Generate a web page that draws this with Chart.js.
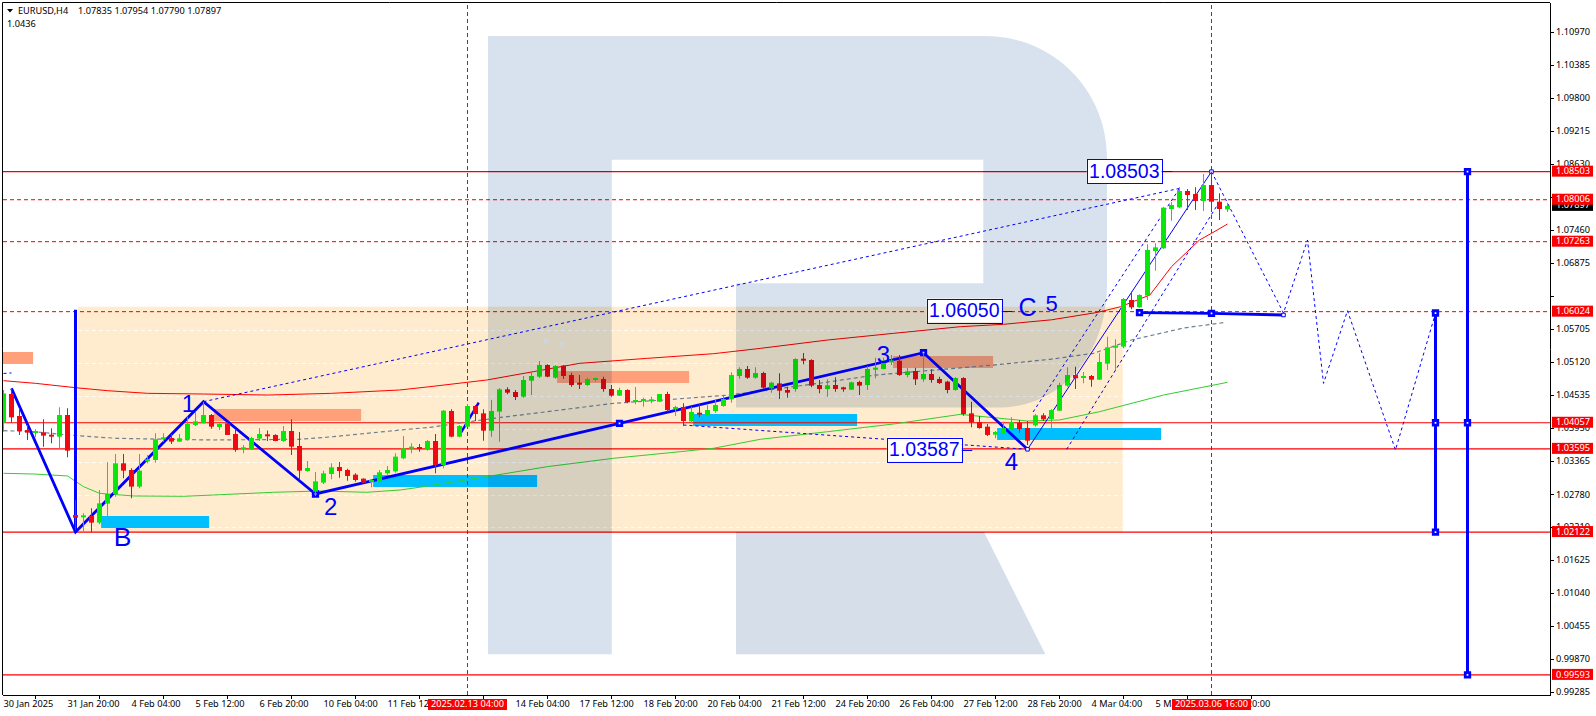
<!DOCTYPE html>
<html>
<head>
<meta charset="utf-8">
<title>EURUSD,H4</title>
<script src="https://cdn.jsdelivr.net/npm/chart.js@4/dist/chart.umd.min.js"></script>
<style>
  html, body { margin: 0; padding: 0; background: #fff; overflow: hidden; }
  canvas { display: block; }
</style>
</head>
<body>
<canvas id="chart" width="1596" height="716"></canvas>
<script>
// Candles, one entry per H4 bar
const opens = [
  1.04059,1.04566,1.04177,1.03929,1.03876,1.03888,1.03840,1.03811,1.04195,1.02424,
  1.02383,1.02407,1.02289,1.02625,1.02796,1.03339,1.03221,1.02926,1.03374,1.03398,
  1.03764,1.03787,1.03723,1.03764,1.04018,1.04047,1.04195,1.03982,1.04047,1.03858,
  1.03587,1.03587,1.03776,1.03835,1.03841,1.03734,1.03911,1.03646,1.03203,1.02837,
  1.02997,1.03150,1.03274,1.03221,1.03138,1.03067,1.03009,1.03020,1.03162,1.03197,
  1.03428,1.03599,1.03610,1.03575,1.03734,1.03310,1.04265,1.03811,1.03988,1.04354,
  1.04224,1.03917,1.04254,1.04649,1.04602,1.04519,1.04802,1.04873,1.05080,1.04855,
  1.05068,1.04902,1.04749,1.04726,1.04814,1.04832,1.04655,1.04537,1.04637,1.04425,
  1.04442,1.04436,1.04430,1.04566,1.04295,1.04336,1.04082,1.04230,1.04189,1.04265,
  1.04354,1.04472,1.04885,1.05009,1.04855,1.04938,1.04666,1.04755,1.04637,1.04655,
  1.05186,1.05168,1.04726,1.04655,1.04726,1.04672,1.04643,1.04779,1.04726,1.04997,
  1.05009,1.05127,1.05156,1.04903,1.04973,1.04826,1.04920,1.04832,1.04785,1.04637,
  1.04849,1.04224,1.04071,1.03988,1.03846,1.03876,1.03929,1.04059,1.03964,1.04012,
  1.04189,1.04124,1.04271,1.04714,1.04903,1.04849,1.04885,1.04820,1.05103,1.05386,
  1.05405,1.06231,1.06101,1.06308,1.07098,1.07146,1.07842,1.07871,1.08160,1.08107,
  1.07983,1.08266,1.07971,1.07835
];
const highs = [
  1.04637,1.04666,1.04312,1.04018,1.03941,1.04118,1.03959,1.04330,1.04312,1.02690,
  1.02454,1.02542,1.02867,1.03363,1.03504,1.03504,1.03250,1.03504,1.03486,1.03870,
  1.03870,1.03858,1.03858,1.04165,1.04253,1.04430,1.04212,1.04047,1.04077,1.03929,
  1.03664,1.03811,1.03959,1.03918,1.03853,1.04000,1.04118,1.03894,1.03380,1.03186,
  1.03209,1.03339,1.03363,1.03245,1.03162,1.03073,1.03056,1.03221,1.03292,1.03516,
  1.03823,1.03693,1.03681,1.03752,1.03858,1.04283,1.04295,1.04017,1.04389,1.04372,
  1.04295,1.04460,1.04667,1.04684,1.04637,1.04885,1.04962,1.05150,1.05091,1.05074,
  1.05080,1.04944,1.04902,1.04855,1.04855,1.04873,1.04726,1.04678,1.04649,1.04690,
  1.04501,1.04519,1.04566,1.04607,1.04360,1.04401,1.04342,1.04383,1.04372,1.04472,
  1.04531,1.04950,1.05038,1.05062,1.05038,1.04962,1.04785,1.04932,1.04696,1.05198,
  1.05292,1.05180,1.04814,1.04826,1.04861,1.04696,1.04785,1.04802,1.05062,1.05209,
  1.05209,1.05256,1.05256,1.05032,1.05032,1.05286,1.05003,1.04873,1.04802,1.04861,
  1.04861,1.04431,1.04177,1.04035,1.03911,1.04076,1.04153,1.04106,1.04088,1.04212,
  1.04224,1.04295,1.04767,1.05038,1.05050,1.04956,1.04903,1.05286,1.05581,1.05534,
  1.06266,1.06379,1.06331,1.07216,1.07234,1.07883,1.07966,1.08225,1.08196,1.08225,
  1.08461,1.08503,1.08119,1.07954
];
const lows = [
  1.03900,1.04059,1.03841,1.03752,1.03800,1.03634,1.03693,1.03587,1.03445,1.02159,
  1.02112,1.02124,1.02260,1.02395,1.02749,1.03073,1.02719,1.02896,1.03339,1.03351,
  1.03723,1.03681,1.03723,1.03740,1.04000,1.04047,1.03953,1.03929,1.03841,1.03546,
  1.03516,1.03575,1.03734,1.03734,1.03728,1.03723,1.03486,1.03056,1.03191,1.02761,
  1.02973,1.03056,1.03085,1.03032,1.03014,1.02985,1.02914,1.02985,1.03138,1.03174,
  1.03410,1.03516,1.03545,1.03563,1.03162,1.03251,1.03799,1.03799,1.03976,1.04088,
  1.03740,1.03811,1.03723,1.04560,1.04460,1.04501,1.04549,1.04849,1.04861,1.04838,
  1.04832,1.04696,1.04655,1.04714,1.04784,1.04607,1.04519,1.04531,1.04401,1.04383,
  1.04342,1.04401,1.04430,1.04254,1.04177,1.04000,1.04047,1.04153,1.04177,1.04236,
  1.04342,1.04413,1.04838,1.04838,1.04838,1.04661,1.04590,1.04478,1.04501,1.04608,
  1.05091,1.04684,1.04578,1.04519,1.04608,1.04608,1.04637,1.04548,1.04637,1.04843,
  1.05003,1.05080,1.04891,1.04861,1.04726,1.04785,1.04767,1.04743,1.04578,1.04625,
  1.04183,1.03976,1.03953,1.03823,1.03782,1.03811,1.03911,1.03882,1.03664,1.03988,
  1.04088,1.03870,1.04265,1.04696,1.04655,1.04755,1.04696,1.04814,1.04991,1.04991,
  1.05376,1.06066,1.06095,1.06231,1.06750,1.07134,1.07635,1.07859,1.07824,1.07824,
  1.07806,1.07794,1.07647,1.07790
];
const closes = [
  1.04578,1.04153,1.03911,1.03882,1.03887,1.03829,1.03811,1.04195,1.03563,1.02377,
  1.02413,1.02289,1.02631,1.02796,1.03339,1.03209,1.02926,1.03209,1.03410,1.03764,
  1.03799,1.03723,1.03782,1.04035,1.04082,1.04195,1.03988,1.04035,1.03841,1.03575,
  1.03610,1.03787,1.03858,1.03817,1.03734,1.03911,1.03634,1.03209,1.03256,1.03020,
  1.03162,1.03268,1.03203,1.03115,1.03044,1.02997,1.03044,1.03180,1.03221,1.03457,
  1.03605,1.03616,1.03593,1.03734,1.03310,1.04271,1.03811,1.04000,1.04354,1.04212,
  1.03917,1.04265,1.04649,1.04590,1.04513,1.04814,1.04885,1.05080,1.04873,1.05062,
  1.04885,1.04726,1.04731,1.04832,1.04849,1.04655,1.04537,1.04637,1.04419,1.04460,
  1.04478,1.04472,1.04566,1.04283,1.04336,1.04088,1.04248,1.04200,1.04283,1.04372,
  1.04478,1.04902,1.05009,1.04855,1.04938,1.04678,1.04767,1.04625,1.04590,1.05186,
  1.05156,1.04714,1.04655,1.04720,1.04655,1.04649,1.04773,1.04714,1.05009,1.05026,
  1.05156,1.05156,1.04903,1.04967,1.04826,1.04920,1.04814,1.04761,1.04637,1.04849,
  1.04212,1.04065,1.03964,1.03841,1.03894,1.03964,1.04071,1.03947,1.03740,1.04189,
  1.04118,1.04283,1.04726,1.04903,1.04844,1.04885,1.04820,1.05133,1.05392,1.05416,
  1.06249,1.06101,1.06319,1.07116,1.07163,1.07865,1.07913,1.08160,1.08090,1.07983,
  1.08266,1.07971,1.07842,1.07897
];

// Moving averages, read at their knots
const redMaBars = [0,4,9,13,18,25,33,41,49.5,53.3,60.4,66.25,72,80.4,88.75,94.6,103,111.25,119.6,125,131,136.7,139.6,143.3,146,149.5,151,153];
const redMaValues = [1.04802,1.04755,1.04678,1.04625,1.04578,1.04566,1.04548,1.04578,1.04637,1.04696,1.04814,1.04962,1.05109,1.05197,1.0528,1.05374,1.05522,1.0564,1.05758,1.058,1.0588,1.0601,1.0611,1.06319,1.06821,1.07293,1.07411,1.07576];
const greenMaBars = [0,3.75,8,10,12,16.25,22.5,26.25,33.75,39.6,45.4,49.6,52.5,61.7,68,76.25,84.6,88.75,94.6,103,111.25,119.6,128,132,137,145,153];
const greenMaValues = [1.03162,1.0315,1.03115,1.02926,1.02808,1.02761,1.02755,1.02778,1.02826,1.02849,1.02826,1.02867,1.02926,1.03133,1.0328,1.03428,1.03545,1.03605,1.03764,1.03899,1.04035,1.04206,1.04088,1.04106,1.04253,1.04548,1.04773];
const grayMaBars = [0,3.75,9,14.2,20.4,26.25,37,41.25,49.6,53.3,61.25,68,76.25,82.5,90.8,102.5,109,123.75,130.8,136.25,141,147.5,152.5];
const grayMaValues = [1.03917,1.039,1.03829,1.03782,1.03764,1.03752,1.03764,1.03811,1.03929,1.03976,1.04135,1.04254,1.04401,1.0446,1.04549,1.04767,1.04902,1.05079,1.0518,1.05286,1.05522,1.05735,1.05829];

// Wave count
const zigzagBars = [1,9,25,39,77,115,128];
const zigzagPrices = [1.04666,1.02122,1.0443,1.02796,1.04047,1.05298,1.03587];
const zigzagMarkerBars = [39,77,115];
const zigzagMarkerPrices = [1.02796,1.04047,1.05298];
const impulseBars = [128,151];
const impulsePrices = [1.03587,1.08503];
const shortLegBars = [57,59.4];
const shortLegPrices = [1.0384,1.04413];
const flatBars = [142,151,160];
const flatPrices = [1.06006,1.05995,1.05965];
const flatMarkerBars = [142,151];
const flatMarkerPrices = [1.06006,1.05995];
const hollowBars = [128,151,160];
const hollowPrices = [1.03587,1.08503,1.05965];
const forecastBars = [151,160,163,165,168,174,179];
const forecastPrices = [1.08503,1.06,1.07293,1.04755,1.06041,1.03575,1.05996];
const channels = [
  { bars: [25,147], prices: [1.0443,1.08207] },
  { bars: [128.7,147], prices: [1.04248,1.08207] },
  { bars: [132.9,151.6], prices: [1.03587,1.07882] },
  { bars: [85,128], prices: [1.04017,1.03587] },
  { bars: [0,1], prices: [1.0493,1.0494] }
];
const targetColumns = [
  { bar: 9, prices: [1.0606,1.02122], markers: [] },
  { bar: 179, prices: [1.06,1.04057,1.02122], markers: [1.06,1.04057,1.02122] },
  { bar: 183, prices: [1.08503,1.04057,0.99593], markers: [1.08503,1.04057,0.99593] }
];
const faintCrossBars = [67.8,69.8];
const faintCrossPrices = [1.05505,1.05441];

// Levels and crosshairs
const solidLevels = [1.08503,1.04057,1.03595,1.02122,0.99593];
const dashedLevels = [1.08006,1.07263,1.06024];
const crosshairBars = [58,151];
const crosshairLabels = ['2025.02.13 04:00','2025.03.06 16:00'];
const levelLabels = ['1.08503','1.08006','1.07263','1.06024','1.04057','1.03595','1.02122','0.99593'];
const lastPrice = 1.07897;

// Zones: [first bar, last bar, upper price, lower price]
const mainZone = [9.3,139.9,1.06112,1.02122];
const salmonZones = [
  [-0.1,3.7,1.0531,1.05098],
  [26.3,44.7,1.04301,1.04088],
  [69.2,85.7,1.04973,1.04761],
  [111.2,123.7,1.05239,1.05027]
];
const skyZones = [
  [12.2,25.7,1.02406,1.02194],
  [46.2,66.7,1.03132,1.0292],
  [86.2,106.7,1.04212,1.04],
  [124.2,144.7,1.03964,1.03752]
];

// Axis ticks
const xTickBars = [0,8,16,24,32,40,48,56,64,72,80,88,96,104,112,120,128,136,144,152];
const xTickLabels = ['30 Jan 2025','31 Jan 20:00','4 Feb 04:00','5 Feb 12:00','6 Feb 20:00','10 Feb 04:00','11 Feb 12:00','12 Feb 20:00','14 Feb 04:00','17 Feb 12:00','18 Feb 20:00','20 Feb 04:00','21 Feb 12:00','24 Feb 20:00','26 Feb 04:00','27 Feb 12:00','28 Feb 20:00','4 Mar 04:00','5 Mar 12:00','6 Mar 20:00'];
const yTickValues = [1.1097,1.10385,1.098,1.09215,1.0863,1.08045,1.0746,1.06875,1.0629,1.05705,1.0512,1.04535,1.0395,1.03365,1.0278,1.0221,1.01625,1.0104,1.00455,0.9987,0.99285];
const yTickLabels = ['1.10970','1.10385','1.09800','1.09215','1.08630','','1.07460','1.06875','','1.05705','1.05120','1.04535','1.03950','1.03365','1.02780','1.02210','1.01625','1.01040','1.00455','0.99870','0.99285'];

// Text on the chart
const waveTexts = ['B','1','2','3','4','C','5'];
const waveTextBars = [14.9,23.1,40.9,110,126,128,131];
const waveTextPrices = [1.02,1.04359,1.02548,1.05235,1.03345,1.06065,1.06145];
const waveTextSizes = [26.5,24,24,24,24,25,22];
const boxTexts = ['1.08503','1.06050','1.03587'];
const boxBars = [140.1,120.1,115.1];
const boxPrices = [1.0851,1.06044,1.03583];

const X_MIN = -0.0625;
const X_MAX = 193.3125;
const Y_MIN = 0.99237;
const Y_MAX = 1.11489;

const FONT = '"Liberation Sans", Arial, sans-serif';
const AXIS_FONT_FAMILY = '"Noto Sans", "Liberation Sans", sans-serif';
const AXIS_FONT_SIZE = 9.2;
const AXIS_FONT = AXIS_FONT_SIZE + 'px ' + AXIS_FONT_FAMILY;
const BLUE = '#0000ff';
const RED = '#f80000';

function toPoints(xs, ys) {
  return xs.map((x, i) => ({ x: x, y: ys[i] }));
}

function lineSet(xs, ys, color, width, dash, order) {
  return {
    type: 'line',
    data: toPoints(xs, ys),
    borderColor: color,
    borderWidth: width,
    borderDash: dash || [],
    pointRadius: 0,
    tension: 0,
    fill: false,
    order: order
  };
}

function markerSet(xs, ys, radius, borderWidth, order) {
  return {
    type: 'line',
    data: toPoints(xs, ys),
    showLine: false,
    pointStyle: 'rect',
    pointRadius: radius,
    pointBackgroundColor: '#ffffff',
    pointBorderColor: BLUE,
    pointBorderWidth: borderWidth,
    order: order
  };
}

const candleColors = opens.map((o, i) => (closes[i] >= o ? '#08e808' : '#f00812'));

const datasets = [];

// Bodies over wicks
datasets.push({
  type: 'bar',
  data: opens.map((o, i) => ({ x: i, y: [o, closes[i]] })),
  backgroundColor: candleColors,
  barThickness: 5,
  minBarLength: 2,
  grouped: false,
  inflateAmount: 0,
  borderWidth: 0,
  order: 1
});
datasets.push({
  type: 'bar',
  data: opens.map((o, i) => ({ x: i, y: [lows[i], highs[i]] })),
  backgroundColor: candleColors,
  barThickness: 1,
  grouped: false,
  inflateAmount: 0,
  borderWidth: 0,
  order: 2
});

// Wave drawing
datasets.push(markerSet(hollowBars, hollowPrices, 2.5, 1, 3));
datasets.push(markerSet(zigzagMarkerBars, zigzagMarkerPrices, 3.2, 2.8, 3));
datasets.push(markerSet(flatMarkerBars, flatMarkerPrices, 3.2, 2.8, 3));
datasets.push(lineSet(zigzagBars, zigzagPrices, BLUE, 2.8, null, 4));
datasets.push(lineSet(shortLegBars, shortLegPrices, BLUE, 2.4, null, 4));
datasets.push(lineSet(flatBars, flatPrices, BLUE, 2.8, null, 4));
datasets.push(lineSet(impulseBars, impulsePrices, BLUE, 1, null, 4));
datasets.push(lineSet(forecastBars, forecastPrices, BLUE, 1, [3, 3], 4));
channels.forEach(c => {
  datasets.push(lineSet(c.bars, c.prices, BLUE, 1, [3, 3], 4));
});
targetColumns.forEach(c => {
  const xs = c.prices.map(() => c.bar);
  datasets.push(lineSet(xs, c.prices, BLUE, 3, null, 4));
  if (c.markers.length) {
    datasets.push(markerSet(c.markers.map(() => c.bar), c.markers, 3.2, 2.8, 3));
  }
});

// Moving averages
datasets.push(lineSet(redMaBars, redMaValues, '#ff0000', 1, null, 5));
datasets.push(lineSet(greenMaBars, greenMaValues, '#32cd32', 1, null, 5));
datasets.push(lineSet(grayMaBars, grayMaValues, '#708090', 1.2, [4, 3], 5));

// Levels
solidLevels.forEach(p => {
  datasets.push(lineSet([X_MIN, X_MAX], [p, p], RED, 1.2, null, 6));
});
dashedLevels.forEach(p => {
  datasets.push(lineSet([X_MIN, X_MAX], [p, p], RED, 1, [4, 3], 6));
});
crosshairBars.forEach(b => {
  datasets.push(lineSet([b, b], [Y_MIN, Y_MAX], RED, 1, [4, 3], 6));
});

datasets.push({
  type: 'line',
  data: toPoints(faintCrossBars, faintCrossPrices),
  showLine: false,
  pointStyle: 'crossRot',
  pointRadius: 3,
  pointBorderColor: '#f0f2f5',
  pointBorderWidth: 1.5,
  order: 7
});

function fillZone(chart, zone, color) {
  const { x, y } = chart.scales;
  const left = x.getPixelForValue(zone[0]);
  const top = y.getPixelForValue(zone[2]);
  chart.ctx.fillStyle = color;
  chart.ctx.fillRect(left, top, x.getPixelForValue(zone[1]) - left, y.getPixelForValue(zone[3]) - top);
}

function priceTag(ctx, text, yPos, fill) {
  ctx.fillStyle = fill;
  ctx.fillRect(1552, yPos - 6, 41, 11);
  ctx.fillStyle = '#ffffff';
  ctx.font = AXIS_FONT;
  ctx.textAlign = 'left';
  ctx.textBaseline = 'middle';
  ctx.fillText(text, 1556, yPos);
}

const zonesPlugin = {
  id: 'zones',
  beforeDraw(chart) {
    chart.ctx.save();
    chart.ctx.fillStyle = '#ffffff';
    chart.ctx.fillRect(0, 0, chart.width, chart.height);
    chart.ctx.restore();
  },
  beforeDatasetsDraw(chart) {
    const ctx = chart.ctx;
    const { x, y } = chart.scales;
    ctx.save();
    ctx.beginPath();
    ctx.rect(chart.chartArea.left, chart.chartArea.top, chart.chartArea.width, chart.chartArea.height);
    ctx.clip();
    fillZone(chart, mainZone, '#ffebcd');

    // White grid dashes only show on the main zone, under the smaller zones
    ctx.strokeStyle = 'rgba(255,255,255,0.85)';
    ctx.lineWidth = 1;
    ctx.setLineDash([4, 3]);
    yTickValues.filter(v => v < mainZone[2] && v > mainZone[3]).forEach(v => {
      const yPos = Math.round(y.getPixelForValue(v)) + 0.5;
      ctx.beginPath();
      ctx.moveTo(x.getPixelForValue(mainZone[0]), yPos);
      ctx.lineTo(x.getPixelForValue(mainZone[1]), yPos);
      ctx.stroke();
    });
    ctx.setLineDash([]);

    salmonZones.forEach(z => fillZone(chart, z, '#ffa07a'));
    skyZones.forEach(z => fillZone(chart, z, '#00bfff'));
    ctx.restore();
  }
};

// Broker logo behind everything, tints what lies under it
const watermarkPlugin = {
  id: 'watermark',
  afterDatasetsDraw(chart) {
    const ctx = chart.ctx;
    ctx.save();
    ctx.globalCompositeOperation = 'multiply';
    ctx.fillStyle = '#d8e2ee';
    ctx.beginPath();
    ctx.moveTo(488, 36);
    ctx.lineTo(985, 36);
    ctx.bezierCurveTo(1055, 36, 1107, 92, 1107, 157);
    ctx.lineTo(1107, 285);
    ctx.bezierCurveTo(1107, 355, 1060, 407.6, 998, 407.6);
    ctx.lineTo(736, 407.6);
    ctx.lineTo(736, 283.3);
    ctx.lineTo(983.3, 283.3);
    ctx.lineTo(983.3, 159.7);
    ctx.lineTo(611.8, 159.7);
    ctx.lineTo(611.8, 654.3);
    ctx.lineTo(488, 654.3);
    ctx.closePath();
    ctx.fill();
    ctx.fillStyle = '#d5dee9';
    ctx.beginPath();
    ctx.moveTo(736, 532);
    ctx.lineTo(984, 532);
    ctx.lineTo(1045.3, 654.3);
    ctx.lineTo(736, 654.3);
    ctx.closePath();
    ctx.fill();
    ctx.restore();
  }
};

const overlayPlugin = {
  id: 'overlay',
  afterDraw(chart) {
    const ctx = chart.ctx;
    const { x, y } = chart.scales;
    const area = chart.chartArea;
    ctx.save();

    // Frame
    ctx.strokeStyle = '#000000';
    ctx.lineWidth = 1;
    ctx.beginPath();
    ctx.moveTo(area.left - 0.5, area.bottom);
    ctx.lineTo(area.left - 0.5, area.top - 0.5);
    ctx.lineTo(area.right, area.top - 0.5);
    ctx.stroke();

    // Header
    ctx.fillStyle = '#000000';
    ctx.beginPath();
    ctx.moveTo(7, 9);
    ctx.lineTo(13, 9);
    ctx.lineTo(10, 12.5);
    ctx.closePath();
    ctx.fill();
    ctx.font = AXIS_FONT;
    ctx.textAlign = 'left';
    ctx.textBaseline = 'middle';
    ctx.fillText('EURUSD,H4', 18, 11);
    ctx.fillText('1.07835 1.07954 1.07790 1.07897', 78, 11);
    ctx.fillText('1.0436', 7, 24);

    // Wave numbers
    ctx.fillStyle = BLUE;
    ctx.textAlign = 'center';
    waveTexts.forEach((t, i) => {
      ctx.font = waveTextSizes[i] + 'px ' + FONT;
      ctx.fillText(t, x.getPixelForValue(waveTextBars[i]), y.getPixelForValue(waveTextPrices[i]));
    });

    // Price boxes with a short tail
    boxTexts.forEach((t, i) => {
      const cx = x.getPixelForValue(boxBars[i]);
      const cy = y.getPixelForValue(boxPrices[i]);
      ctx.fillStyle = '#ffffff';
      ctx.fillRect(cx - 37.5, cy - 12, 75, 24);
      ctx.strokeStyle = BLUE;
      ctx.lineWidth = 1;
      ctx.strokeRect(Math.round(cx - 37.5) + 0.5, Math.round(cy - 12) + 0.5, 75, 24);
      ctx.beginPath();
      ctx.moveTo(cx + 37.5, Math.round(cy) + 0.5);
      ctx.lineTo(cx + 48, Math.round(cy) + 0.5);
      ctx.stroke();
      ctx.fillStyle = BLUE;
      ctx.font = '19.5px ' + FONT;
      ctx.fillText(t, cx, cy + 1);
    });

    // Tags on the axes
    priceTag(ctx, lastPrice.toFixed(5), y.getPixelForValue(lastPrice), '#000000');
    levelLabels.forEach(t => priceTag(ctx, t, y.getPixelForValue(parseFloat(t)), '#fb0000'));
    ctx.font = AXIS_FONT;
    ctx.textAlign = 'center';
    crosshairBars.forEach((b, i) => {
      const cx = x.getPixelForValue(b);
      ctx.fillStyle = '#fb0000';
      ctx.fillRect(cx - 39.5, 699, 79, 11);
      ctx.fillStyle = '#ffffff';
      ctx.fillText(crosshairLabels[i], cx, 704.5);
    });
    ctx.restore();
  }
};

new Chart(document.getElementById('chart').getContext('2d', { alpha: false }), {
  type: 'line',
  data: { datasets: datasets },
  plugins: [zonesPlugin, watermarkPlugin, overlayPlugin],
  options: {
    responsive: false,
    animation: false,
    devicePixelRatio: 1,
    layout: { autoPadding: false, padding: { left: 3, top: 3, right: 0, bottom: 0 } },
    plugins: { legend: { display: false }, title: { display: false }, tooltip: { enabled: false } },
    events: [],
    scales: {
      x: {
        type: 'linear',
        offset: false,
        min: X_MIN,
        max: X_MAX,
        afterBuildTicks: scale => { scale.ticks = xTickBars.map(v => ({ value: v })); },
        afterFit: scale => { scale.height = 21; scale.paddingLeft = 0; scale.paddingRight = 0; },
        grid: { drawOnChartArea: false, drawTicks: true, tickLength: 4, color: '#000000' },
        border: { display: true, color: '#000000', width: 1 },
        ticks: {
          autoSkip: false,
          maxRotation: 0,
          minRotation: 0,
          align: 'start',
          padding: 0,
          color: '#000000',
          font: { family: AXIS_FONT_FAMILY, size: AXIS_FONT_SIZE },
          callback: (value, index) => xTickLabels[index]
        }
      },
      y: {
        type: 'linear',
        position: 'right',
        min: Y_MIN,
        max: Y_MAX,
        afterBuildTicks: scale => { scale.ticks = yTickValues.map(v => ({ value: v })); },
        afterFit: scale => { scale.width = 46; scale.paddingTop = 0; scale.paddingBottom = 0; },
        grid: { drawOnChartArea: false, drawTicks: true, tickLength: 4, color: '#000000' },
        border: { display: true, color: '#000000', width: 1 },
        ticks: {
          autoSkip: false,
          padding: 2,
          color: '#000000',
          font: { family: AXIS_FONT_FAMILY, size: AXIS_FONT_SIZE },
          callback: (value, index) => yTickLabels[index]
        }
      }
    }
  }
});
</script>
</body>
</html>
